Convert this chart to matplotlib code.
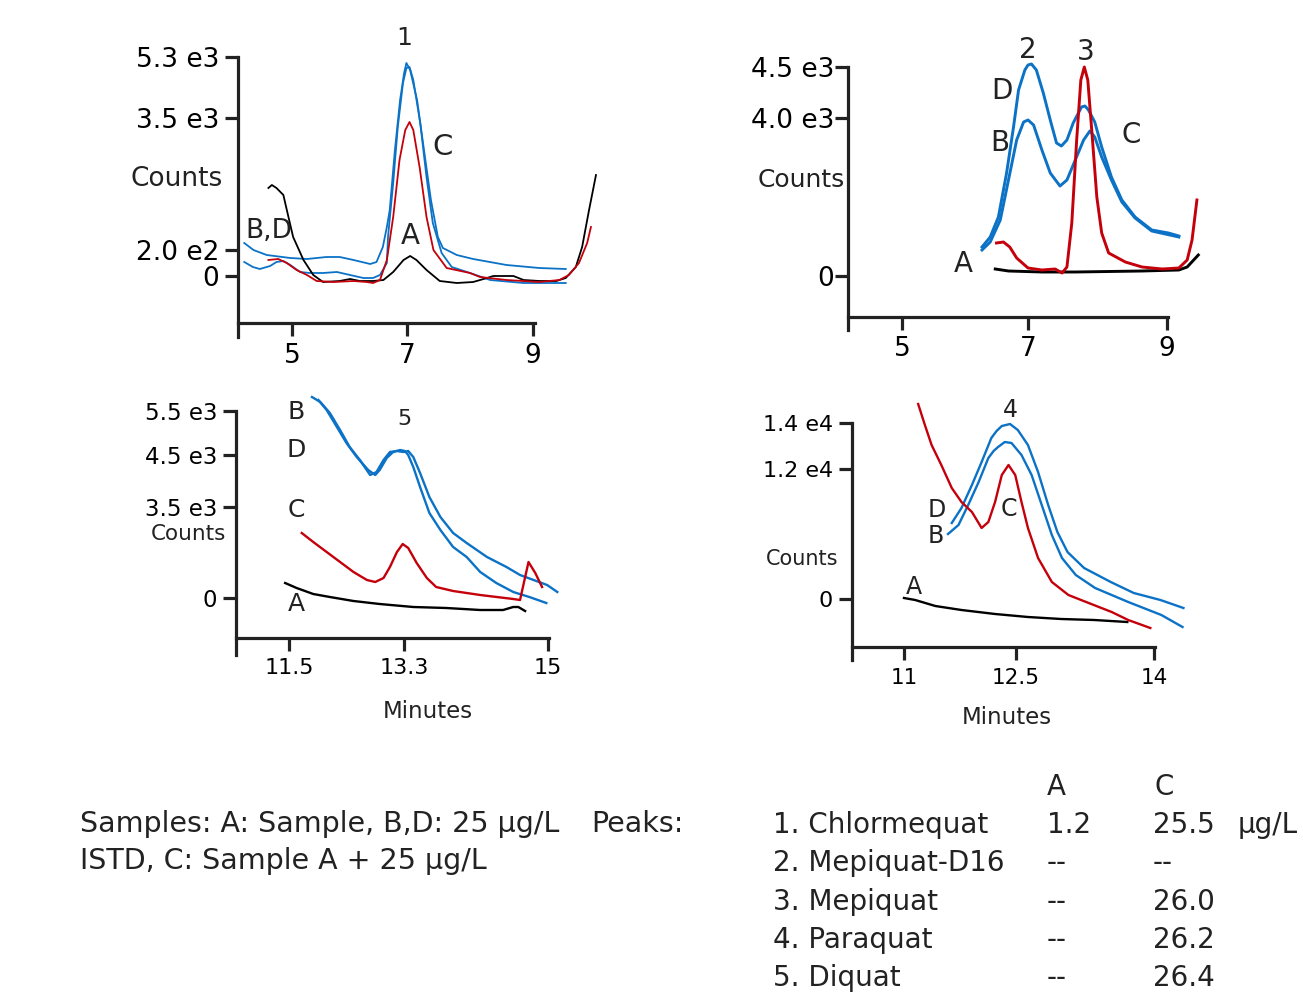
import numpy as np
import matplotlib.pyplot as plt

W, H = 1303, 994
BLUE = '#0b72c6'
RED = '#c4000b'

# ---- panel 1: peak 1 (chlormequat), minutes / relative signal height ----
p1_b1_t = [4.17, 4.33, 4.56, 4.97, 5.26, 5.60, 5.83, 6.07, 6.36, 6.47, 6.58, 6.65, 6.70, 6.79, 6.88, 6.95,
           6.99, 7.05, 7.16, 7.27, 7.38, 7.49, 7.57, 7.79, 8.05, 8.58, 9.10, 9.52]
p1_b1_h = [33, 26, 21, 18, 17, 19, 19, 16, 12, 14, 29, 49, 66, 126, 176, 203,
           213, 206, 176, 126, 76, 39, 28, 21, 17, 11, 8, 7]
p1_b2_t = [4.17, 4.32, 4.44, 4.62, 4.73, 4.85, 4.97, 5.14, 5.31, 5.54, 5.78, 6.01, 6.24, 6.41, 6.53, 6.65,
           6.67, 6.76, 6.84, 6.93, 6.99, 7.04, 7.10, 7.21, 7.31, 7.41, 7.55, 7.71, 8.00, 8.32, 8.85, 9.52]
p1_b2_h = [14, 9, 7, 10, 14, 15, 11, 4, 3, 3, 4, 1, -2, -2, 1, 13,
           39, 93, 149, 193, 208, 209, 196, 153, 99, 53, 23, 9, 3, -4, -7, -7]
p1_r_t = [4.59, 4.76, 4.91, 5.08, 5.26, 5.43, 5.72, 6.07, 6.30, 6.41, 6.53, 6.65, 6.76, 6.87, 6.97, 7.04,
          7.10, 7.20, 7.31, 7.42, 7.63, 8.00, 8.16, 8.58, 9.10, 9.42, 9.57, 9.73, 9.86, 9.92]
p1_r_h = [16, 17, 13, 6, 1, -5, -6, -5, -6, -7, -4, 16, 59, 116, 146, 154,
          146, 109, 59, 26, 8, 3, -1, -4, -6, -4, 1, 13, 33, 49]
p1_k_t = [4.59, 4.65, 4.73, 4.85, 4.91, 5.02, 5.20, 5.37, 5.54, 5.83, 6.01, 6.18, 6.41, 6.59, 6.76, 6.94,
          7.05, 7.15, 7.31, 7.52, 7.79, 8.05, 8.16, 8.27, 8.37, 8.69, 8.85, 9.10, 9.37, 9.52, 9.68, 9.78,
          9.89, 10.0]
p1_k_h = [88, 91, 88, 81, 66, 39, 16, 1, -6, -5, -3, -5, -5, -4, 4, 16,
          20, 16, 6, -5, -7, -6, -4, -2, 0, 0, -4, -5, -5, -2, 9, 29,
          66, 101]

# ---- panel 2: peaks 2 and 3 ----
p2_d_t = [6.27, 6.40, 6.53, 6.66, 6.77, 6.85, 6.95, 7.00, 7.05, 7.12, 7.22, 7.32, 7.41, 7.48, 7.56, 7.65,
          7.77, 7.82, 7.87, 7.96, 8.06, 8.20, 8.35, 8.54, 8.78, 9.02, 9.17]
p2_d_h = [29, 39, 59, 103, 149, 186, 206, 211, 212, 206, 183, 156, 133, 130, 136, 153,
          169, 170, 166, 154, 129, 99, 76, 59, 46, 43, 40]
p2_b_t = [6.27, 6.40, 6.56, 6.69, 6.82, 6.93, 7.00, 7.08, 7.20, 7.32, 7.46, 7.56, 7.68, 7.80, 7.89, 7.96,
          8.06, 8.20, 8.35, 8.54, 8.78, 9.17]
p2_b_h = [26, 34, 56, 96, 136, 154, 156, 151, 126, 103, 90, 96, 116, 136, 145, 139,
          119, 96, 74, 58, 45, 39]
p2_r_t = [6.50, 6.61, 6.71, 6.82, 7.00, 7.20, 7.39, 7.49, 7.56, 7.63, 7.70, 7.76, 7.81, 7.86, 7.92, 7.99,
          8.06, 8.16, 8.40, 8.64, 8.93, 9.17, 9.29, 9.36, 9.43]
p2_r_h = [33, 34, 29, 18, 8, 6, 7, 3, 9, 53, 136, 196, 209, 196, 143, 79,
          43, 23, 14, 9, 7, 8, 16, 36, 76]
p2_k_t = [6.48, 6.69, 7.20, 7.68, 8.64, 9.17, 9.29, 9.45]
p2_k_h = [7, 5, 4, 4, 5, 6, 9, 21]

# ---- panel 3: peak 5 (diquat) ----
p3_b1_t = [11.86, 11.99, 12.14, 12.30, 12.45, 12.61, 12.77, 12.87, 12.98, 13.08, 13.19, 13.29, 13.35, 13.41,
           13.49, 13.60, 13.73, 13.88, 14.04, 14.28, 14.51, 14.67, 14.83, 14.99, 15.11]
p3_b1_h = [201, 196, 185, 168, 151, 138, 123, 126, 138, 146, 147, 146, 147, 141,
           125, 101, 81, 65, 55, 41, 31, 23, 18, 13, 6]
p3_b2_t = [11.96, 12.09, 12.25, 12.40, 12.56, 12.74, 12.85, 12.92, 13.03, 13.13, 13.24, 13.31, 13.35, 13.41,
           13.49, 13.60, 13.73, 13.88, 14.04, 14.20, 14.39, 14.59, 14.78, 14.98]
p3_b2_h = [198, 188, 171, 155, 141, 128, 123, 128, 140, 146, 148, 147, 143, 131,
           111, 85, 68, 51, 41, 26, 15, 6, 1, -5]
p3_r_t = [11.70, 11.88, 12.09, 12.30, 12.51, 12.72, 12.85, 12.98, 13.08, 13.19, 13.28, 13.35, 13.45, 13.57,
          13.68, 13.88, 14.20, 14.59, 14.67, 14.77, 14.85, 14.93]
p3_r_h = [65, 56, 46, 36, 26, 18, 16, 20, 31, 46, 54, 50, 35, 20,
          11, 7, 3, -1, -2, 36, 25, 11]
p3_k_t = [11.44, 11.62, 11.88, 12.14, 12.51, 12.92, 13.41, 13.80, 14.20, 14.47, 14.59, 14.65, 14.73]
p3_k_h = [15, 10, 4, 1, -3, -6, -9, -10, -12, -12, -9, -9, -13]

# ---- panel 4: peak 4 (paraquat) ----
p4_d_t = [11.64, 11.77, 11.91, 12.04, 12.17, 12.24, 12.31, 12.42, 12.52, 12.63, 12.74, 12.85, 12.95, 13.06,
          13.24, 13.53, 13.78, 14.07, 14.32]
p4_d_h = [76, 91, 114, 137, 161, 168, 173, 175, 169, 154, 127, 94, 67, 47,
          31, 17, 6, -1, -9]
p4_b_t = [11.59, 11.73, 11.86, 12.00, 12.13, 12.20, 12.26, 12.35, 12.44, 12.56, 12.67, 12.78, 12.89, 13.00,
          13.15, 13.36, 13.72, 14.08, 14.31]
p4_b_h = [65, 74, 94, 117, 141, 148, 152, 157, 156, 144, 124, 94, 64, 41,
          24, 11, -3, -16, -28]
p4_r_t = [11.19, 11.28, 11.37, 11.50, 11.64, 11.77, 11.91, 12.04, 12.13, 12.22, 12.31, 12.40, 12.49, 12.56,
          12.63, 12.74, 12.89, 13.07, 13.29, 13.54, 13.72, 13.96]
p4_r_h = [195, 174, 154, 134, 111, 97, 87, 71, 77, 97, 124, 134, 124, 97,
          71, 41, 17, 4, -4, -13, -21, -29]
p4_k_t = [11.00, 11.15, 11.42, 11.77, 12.22, 12.63, 12.99, 13.35, 13.71]
p4_k_h = [1, -1, -7, -11, -15, -18, -20, -21, -23]

# ---- legend text ----
peak_names = ['1. Chlormequat', '2. Mepiquat-D16', '3. Mepiquat', '4. Paraquat', '5. Diquat']
conc_A = ['1.2', '--', '--', '--', '--']
conc_C = ['25.5', '--', '26.0', '26.2', '26.4']


def warp(vals, pos):
    # piecewise-linear axis (the original tick spacing is not uniform)
    def mapper(a, b):
        a, b = np.asarray(a, float), np.asarray(b, float)
        s0 = (b[1] - b[0]) / (a[1] - a[0])
        s1 = (b[-1] - b[-2]) / (a[-1] - a[-2])

        def f(v):
            v = np.asarray(v, float)
            out = np.interp(v, a, b)
            out = np.where(v < a[0], b[0] + (v - a[0]) * s0, out)
            out = np.where(v > a[-1], b[-1] + (v - a[-1]) * s1, out)
            return out
        return f
    return mapper(vals, pos), mapper(pos, vals)


def panel(rect, xt, xt_px, xlim, ylim, xaxis_at, yt, ytl, tsize, ysize, ypad, xpad):
    l, t, r, b = rect
    ax = fig.add_axes([l / W, 1 - b / H, (r - l) / W, (b - t) / H])
    ax.set_xscale('function', functions=warp(xt, xt_px))
    ax.set_xlim(*xlim)
    ax.set_ylim(*ylim)
    for s in ['top', 'right']:
        ax.spines[s].set_visible(False)
    ax.spines['bottom'].set_position(('data', xaxis_at))
    for s in ['left', 'bottom']:
        ax.spines[s].set_linewidth(2.3)
        ax.spines[s].set_color('#222222')
    ax.set_xticks(xt, [('%g' % v) for v in xt])
    ax.set_yticks(yt, ytl)
    ax.xaxis.set_minor_locator(plt.NullLocator())
    ax.tick_params(length=9.5, width=2.3, color='#222222')
    ax.tick_params(axis='x', labelsize=tsize, pad=xpad)
    ax.tick_params(axis='y', labelsize=ysize, pad=ypad)
    ax.patch.set_alpha(0)
    return ax


fig = plt.figure(figsize=(W / 100, H / 100), dpi=100)

# top left
ax1 = panel((238, 57, 535, 337), [5, 7, 9], [292, 407, 533], (4.061, 9.032), (-61, 219), -47,
            [0, 26, 158, 219], ['0', '2.0 e2', '3.5 e3', '5.3 e3'], 19, 19, 4, 5)
lw = 1.3
ax1.plot(p1_b1_t, p1_b1_h, color=BLUE, lw=lw, clip_on=False)
ax1.plot(p1_b2_t, p1_b2_h, color=BLUE, lw=lw, clip_on=False)
ax1.plot(p1_k_t, p1_k_h, color='black', lw=lw, clip_on=False)
ax1.plot(p1_r_t, p1_r_h, color=RED, lw=lw, clip_on=False)
for s, x, y, fs in [('1', 6.95, 238, 18), ('C', 7.57, 129, 21), ('A', 7.06, 40, 20), ('B,D', 4.60, 45, 19)]:
    ax1.text(x, y, s, fontsize=fs, ha='center', va='center', color='#222222')

# top right
ax2 = panel((848, 67, 1168, 330), [5, 7, 9], [902, 1028, 1167], (4.143, 9.014), (-54, 209), -41,
            [0, 158, 209], ['0', '4.0 e3', '4.5 e3'], 19, 19, 0.5, 4)
lw = 2.1
ax2.plot(p2_d_t, p2_d_h, color=BLUE, lw=lw, clip_on=False)
ax2.plot(p2_b_t, p2_b_h, color=BLUE, lw=lw, clip_on=False)
ax2.plot(p2_k_t, p2_k_h, color='black', lw=lw, clip_on=False)
ax2.plot(p2_r_t, p2_r_h, color=RED, lw=lw, clip_on=False)
for s, x, y in [('2', 7.0, 226), ('3', 7.83, 224), ('D', 6.59, 185), ('B', 6.56, 133), ('C', 8.48, 141),
                ('A', 5.97, 12)]:
    ax2.text(x, y, s, fontsize=20, ha='center', va='center', color='#222222')

# bottom left
ax3 = panel((236, 410.7, 549, 655), [11.5, 13.3, 15], [289, 404, 548], (10.671, 15.012), (-57, 187.3), -40.3,
            [0, 91, 143, 187.3], ['0', '3.5 e3', '4.5 e3', '5.5 e3'], 16, 16.5, 4, 5)
lw = 1.7
ax3.plot(p3_b1_t, p3_b1_h, color=BLUE, lw=lw, clip_on=False)
ax3.plot(p3_b2_t, p3_b2_h, color=BLUE, lw=lw, clip_on=False)
ax3.plot(p3_k_t, p3_k_h, color='black', lw=lw, clip_on=False)
ax3.plot(p3_r_t, p3_r_h, color=RED, lw=lw, clip_on=False)
for s, x, y, fs in [('B', 11.61, 186, 18), ('5', 13.31, 179, 16), ('D', 11.61, 148, 18), ('C', 11.61, 88, 18),
                    ('A', 11.61, -6, 18)]:
    ax3.text(x, y, s, fontsize=fs, ha='center', va='center', color='#222222')

# bottom right
ax4 = panel((852, 423.3, 1155, 660), [11, 12.5, 14], [904, 1016, 1154], (10.304, 14.011), (-61, 175.7), -47.7,
            [0, 130, 175.7], ['0', '1.2 e4', '1.4 e4'], 15.5, 16, 4, 6)
lw = 1.7
ax4.plot(p4_d_t, p4_d_h, color=BLUE, lw=lw, clip_on=False)
ax4.plot(p4_b_t, p4_b_h, color=BLUE, lw=lw, clip_on=False)
ax4.plot(p4_k_t, p4_k_h, color='black', lw=lw, clip_on=False)
ax4.plot(p4_r_t, p4_r_h, color=RED, lw=lw, clip_on=False)
for s, x, y in [('4', 12.42, 189), ('D', 11.44, 89), ('C', 12.41, 90), ('B', 11.42, 63), ('A', 11.13, 12)]:
    ax4.text(x, y, s, fontsize=17, ha='center', va='center', color='#222222')


def ftext(x, y, s, **kw):
    kw.setdefault('va', 'center')
    kw.setdefault('color', '#222222')
    fig.text(x / W, 1 - y / H, s, **kw)


ftext(177, 179, 'Counts', fontsize=19, ha='center')
ftext(801, 180, 'Counts', fontsize=18, ha='center')
ftext(188, 534, 'Counts', fontsize=15.5, ha='center')
ftext(802, 559, 'Counts', fontsize=15, ha='center')
ftext(428, 712, 'Minutes', fontsize=16.5, ha='center')
ftext(1007, 717, 'Minutes', fontsize=16.5, ha='center')

# sample / peak description
ftext(80, 824, 'Samples: A: Sample, B,D: 25 µg/L', fontsize=20.5)
ftext(80, 861, 'ISTD, C: Sample A + 25 µg/L', fontsize=20.5)
ftext(591, 824, 'Peaks:', fontsize=20.5)
ftext(1047, 787, 'A', fontsize=20)
ftext(1155, 787, 'C', fontsize=20)
for i, name in enumerate(peak_names):
    y = 825 + i * 38.3
    ftext(773, y, name, fontsize=20)
    ftext(1047, y, conc_A[i], fontsize=20)
    ftext(1153, y, conc_C[i], fontsize=20)
ftext(1238, 825, 'µg/L', fontsize=20)

fig.savefig('out.png', dpi=100)
